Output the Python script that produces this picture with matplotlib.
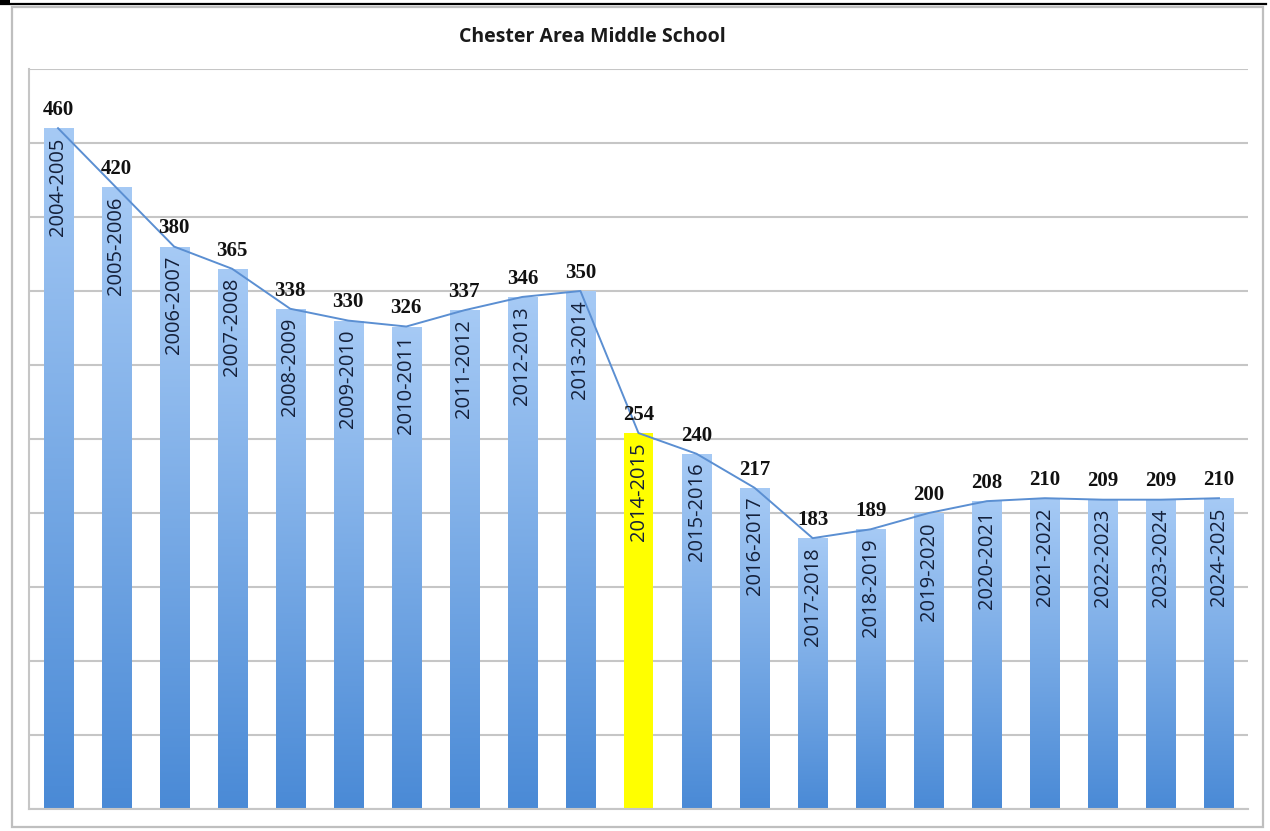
import numpy as np
import matplotlib
matplotlib.use("Agg")
import matplotlib.pyplot as plt
from matplotlib.patches import Rectangle
from matplotlib.lines import Line2D
from matplotlib.colors import LinearSegmentedColormap

title = "Chester Area Middle School"
categories = ["2004-2005", "2005-2006", "2006-2007", "2007-2008", "2008-2009",
              "2009-2010", "2010-2011", "2011-2012", "2012-2013", "2013-2014",
              "2014-2015", "2015-2016", "2016-2017", "2017-2018", "2018-2019",
              "2019-2020", "2020-2021", "2021-2022", "2022-2023", "2023-2024",
              "2024-2025"]
values = [460, 420, 380, 365, 338, 330, 326, 337, 346, 350,
          254, 240, 217, 183, 189, 200, 208, 210, 209, 209, 210]
highlight = "2014-2015"

W, H = 1270, 831
fig = plt.figure(figsize=(W / 100, H / 100), dpi=100)
fig.patch.set_facecolor("white")

# outer frame and top black rule
fig.add_artist(Rectangle((12 / W, 1 - 827 / H), (1263 - 12) / W, (827 - 7) / H,
                         transform=fig.transFigure, fill=False,
                         edgecolor="#bfbfbf", lw=1.6))
fig.add_artist(Line2D([0, 1266 / W], [1 - 4 / H, 1 - 4 / H],
                      transform=fig.transFigure, color="black", lw=1.6))
fig.add_artist(Rectangle((0, 1 - 5 / H), 10 / W, 5 / H, transform=fig.transFigure,
                         color="black", lw=0))

ax = fig.add_axes([29 / W, 1 - 809 / H, (1248 - 29) / W, (809 - 69) / H])
x = np.arange(len(categories))
ax.set_xlim(-0.5, len(categories) - 0.5)
ax.set_ylim(0, 500)
ax.set_yticks(np.arange(0, 501, 50))
ax.set_xticks([])
ax.tick_params(axis="y", length=0, labelleft=False)
ax.grid(axis="y", color="#c6c6c6", lw=1.5)
ax.set_axisbelow(True)
for s in ["top", "right"]:
    ax.spines[s].set_visible(False)
for s in ["left", "bottom"]:
    ax.spines[s].set_color("#c6c6c6")
    ax.spines[s].set_linewidth(1.5)

cmap = LinearSegmentedColormap.from_list("barblue", ["#4a8ad6", "#a6caf5"])
grad = np.linspace(0, 1, 256).reshape(-1, 1)
bars = ax.bar(x, values, width=0.5, color="none", edgecolor="none", zorder=2)
for bar, cat in zip(bars, categories):
    x0, w, h = bar.get_x(), bar.get_width(), bar.get_height()
    if cat == highlight:
        bar.set_facecolor("#ffff00")
        continue
    im = ax.imshow(grad, cmap=cmap, origin="lower", aspect="auto",
                   extent=[x0, x0 + w, 0, h], zorder=2, interpolation="bilinear")
    im.set_clip_path(bar)
ax.set_xlim(-0.5, len(categories) - 0.5)
ax.set_ylim(0, 500)

# connecting line through bar tops
ax.plot(x, values, color="#5b8fd2", lw=1.4, zorder=4, solid_joinstyle="round")

for xi, v, cat in zip(x, values, categories):
    ax.annotate(f"{v}", (xi, v), xytext=(0, 9.5), textcoords="offset points",
                ha="center", va="baseline", fontsize=15, fontweight="bold",
                family="Liberation Serif", color="#111111", zorder=5)
    ax.annotate(cat, (xi, v), xytext=(0, -6.5), textcoords="offset points",
                ha="center", va="top", rotation=90, fontsize=14.5,
                family="Open Sans", color="#14203a", zorder=5)

fig.text(592 / W, 1 - 37 / H, title, ha="center", va="center",
         fontsize=14, fontweight="bold", family="Open Sans", color="#1a1a1a")

fig.savefig("out.png", dpi=100)
